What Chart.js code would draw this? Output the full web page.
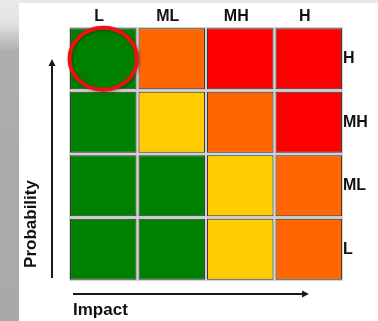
<!DOCTYPE html>
<html>
<head>
<meta charset="utf-8">
<script src="https://cdn.jsdelivr.net/npm/chart.js@4/dist/chart.umd.min.js"></script>
<style>
  html, body { margin: 0; padding: 0; background: #fff; }
  body { width: 378px; height: 321px; position: relative; overflow: hidden; }
  #side { position: absolute; left: 0; top: 0; width: 19px; height: 321px;
          background: linear-gradient(to bottom, #e9e9e9 0px, #e4e4e4 22px, #adadad 52px, #a9a9a9 100%); }
  #topband { position: absolute; left: 19px; top: 0; width: 359px; height: 3px; background: #e7e7e7; }
  #risk { position: absolute; left: 0; top: 0; }
</style>
</head>
<body>
<div id="side"></div>
<div id="topband"></div>
<canvas id="risk" width="378" height="321"></canvas>
<script>
// Impact categories (columns) and probability bands (rows, bottom to top)
const impactLabels = ['L', 'ML', 'MH', 'H'];
const probabilityLabels = ['L', 'ML', 'MH', 'H'];

// Risk level of each cell, listed by impact L -> H (1 low, 2 medium, 3 high, 4 extreme)
const riskL  = [1, 1, 2, 3];
const riskML = [1, 1, 2, 3];
const riskMH = [1, 2, 3, 4];
const riskH  = [1, 3, 4, 4];

// Cell that gets circled: [impact, probability]
const highlightCell = ['L', 'H'];

const levelColors = ['#008000', '#ffcc00', '#ff6600', '#ff0000'];
const riskRows = [riskL, riskML, riskMH, riskH];
const cellInset = 0.02;   // small vertical gap between rows
const FONT = "'Liberation Sans', Arial, sans-serif";

const datasets = riskRows.map((row, r) => ({
  label: 'Probability ' + probabilityLabels[r],
  data: row.map(() => [r + cellInset, r + 1 - cellInset]),
  backgroundColor: row.map(lv => levelColors[lv - 1]),
  borderColor: '#363636',
  borderWidth: 1,
  borderSkipped: false,
  grouped: false,
  barPercentage: 0.97,
  categoryPercentage: 1
}));

// Light grey gutter behind the cells, arrows, axis titles and the highlight ring
const matrixDecor = {
  id: 'matrixDecor',
  beforeDatasetsDraw(chart) {
    const { ctx, chartArea: a } = chart;
    ctx.save();
    ctx.fillStyle = '#d2d2d2';
    ctx.fillRect(a.left, a.top, a.right - a.left, a.bottom - a.top);
    ctx.restore();
  },
  afterDatasetsDraw(chart) {
    const { ctx, chartArea: a, scales } = chart;
    const xs = scales.x, ys = scales.y;
    ctx.save();

    // highlight ring
    const xi = impactLabels.indexOf(highlightCell[0]);
    const yi = probabilityLabels.indexOf(highlightCell[1]);
    const cx = xs.getPixelForValue(xi);
    const cy = ys.getPixelForValue(yi + 0.5);
    const colW = (a.right - a.left) / impactLabels.length;
    const rowH = (a.bottom - a.top) / probabilityLabels.length;
    ctx.shadowColor = 'rgba(0,0,0,0.35)';
    ctx.shadowBlur = 3;
    ctx.shadowOffsetX = 1;
    ctx.shadowOffsetY = 1;
    ctx.beginPath();
    ctx.ellipse(cx, cy, colW / 2 - 0.5, rowH / 2 - 0.8, 0, 0, Math.PI * 2);
    ctx.strokeStyle = '#ee1111';
    ctx.lineWidth = 4;
    ctx.stroke();
    ctx.shadowColor = 'transparent';

    // probability arrow (upwards)
    ctx.strokeStyle = '#1a1a1a';
    ctx.fillStyle = '#1a1a1a';
    ctx.lineWidth = 2;
    const ax = a.left - 17;
    const aTop = a.top + 32;
    ctx.beginPath();
    ctx.moveTo(ax, a.bottom - 3);
    ctx.lineTo(ax, aTop + 5);
    ctx.stroke();
    ctx.beginPath();
    ctx.moveTo(ax, aTop);
    ctx.lineTo(ax - 3.5, aTop + 7);
    ctx.lineTo(ax + 3.5, aTop + 7);
    ctx.closePath();
    ctx.fill();

    // impact arrow (rightwards)
    const ay = a.bottom + 13;
    const aRight = a.right - 34;
    ctx.beginPath();
    ctx.moveTo(a.left + 4, ay);
    ctx.lineTo(aRight - 5, ay);
    ctx.stroke();
    ctx.beginPath();
    ctx.moveTo(aRight, ay);
    ctx.lineTo(aRight - 7, ay - 3.5);
    ctx.lineTo(aRight - 7, ay + 3.5);
    ctx.closePath();
    ctx.fill();

    // axis titles
    ctx.fillStyle = '#111';
    ctx.font = 'bold 17px ' + FONT;
    ctx.textBaseline = 'middle';
    ctx.textAlign = 'left';
    ctx.fillText('Impact', a.left + 4, a.bottom + 29);
    ctx.translate(a.left - 38, a.bottom - 57);
    ctx.rotate(-Math.PI / 2);
    ctx.textAlign = 'center';
    ctx.fillText('Probability', 0, 0);
    ctx.restore();
  }
};

new Chart(document.getElementById('risk'), {
  type: 'bar',
  data: { labels: impactLabels, datasets },
  plugins: [matrixDecor],
  options: {
    responsive: false,
    animation: false,
    devicePixelRatio: 1,
    layout: { padding: { left: 69, right: 0, top: 0, bottom: 40 } },
    plugins: { legend: { display: false }, tooltip: { enabled: false } },
    scales: {
      x: {
        type: 'category',
        position: 'top',
        offset: true,
        grid: { display: false, drawTicks: false },
        border: { display: false },
        ticks: { color: '#111', font: { family: FONT, size: 16, weight: 'bold' }, padding: 1, labelOffset: -4 },
        afterFit: s => { s.height = 27; }
      },
      y: {
        type: 'linear',
        position: 'right',
        min: 0,
        max: probabilityLabels.length,
        grid: { display: false, drawTicks: false },
        border: { display: false },
        afterBuildTicks: axis => { axis.ticks = probabilityLabels.map((_, i) => ({ value: i + 0.5 })); },
        ticks: {
          color: '#111',
          font: { family: FONT, size: 16, weight: 'bold' },
          padding: 0,
          callback: v => probabilityLabels[Math.floor(v)]
        },
        afterFit: s => { s.width = 35; }
      }
    }
  }
});
</script>
</body>
</html>
